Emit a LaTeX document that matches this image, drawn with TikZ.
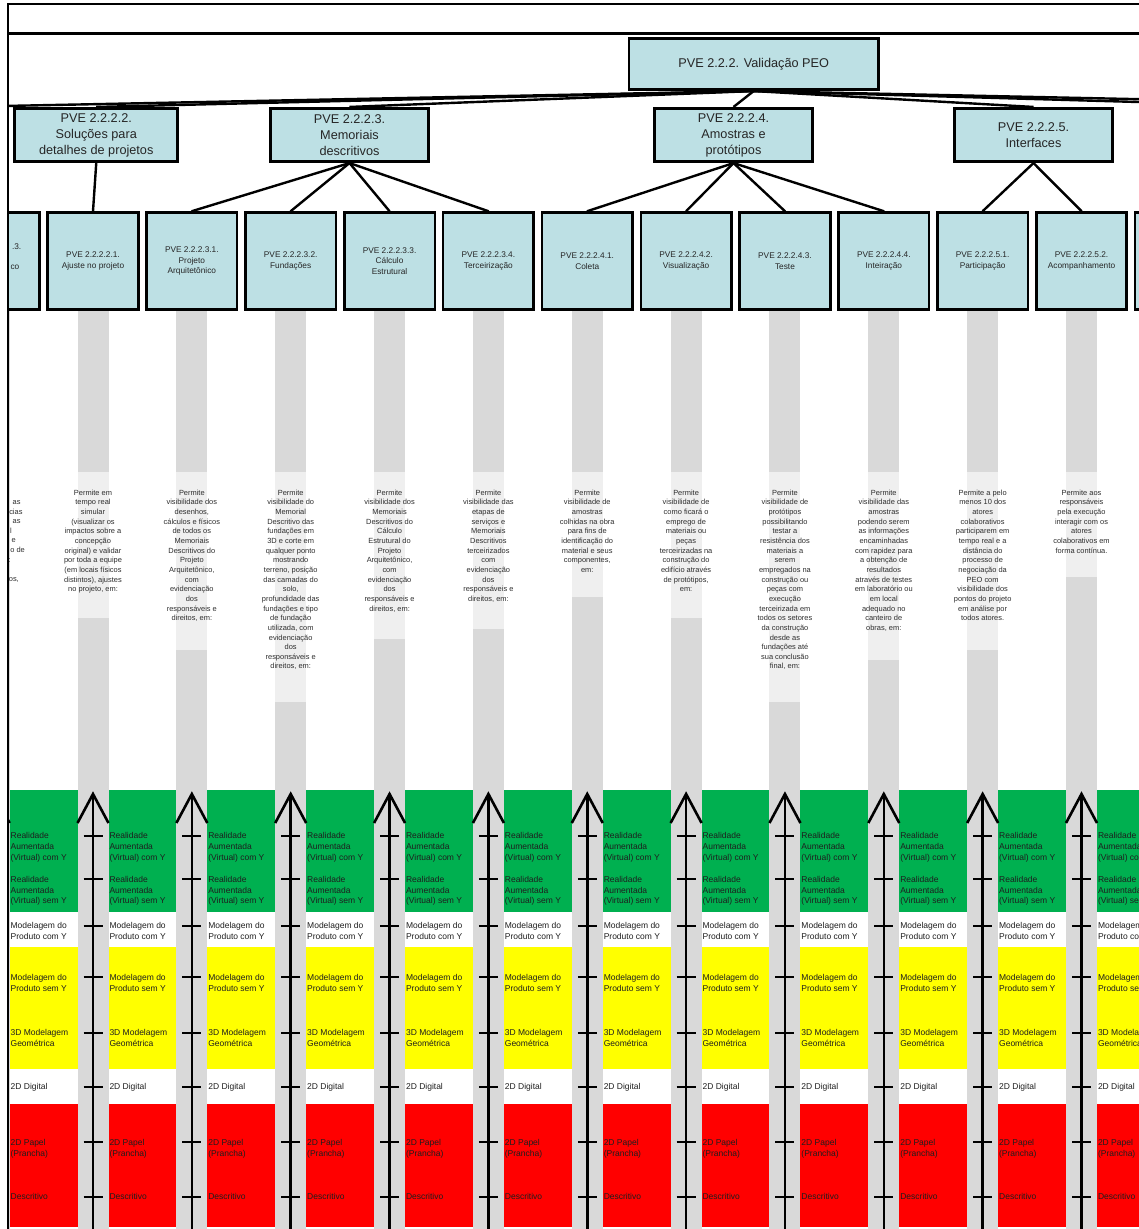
\documentclass[tikz,border=0pt]{standalone}
\usepackage{fontspec}
\setmainfont{Liberation Sans}
\definecolor{boxblue}{RGB}{189,224,228}
\definecolor{colgray}{RGB}{217,217,217}
\definecolor{colpale}{RGB}{239,239,239}
\definecolor{bandgreen}{RGB}{0,176,80}
\definecolor{bandyellow}{RGB}{255,255,0}
\definecolor{bandred}{RGB}{255,0,0}
\definecolor{txtdark}{RGB}{38,38,38}
\definecolor{txtdesc}{RGB}{45,45,45}
\definecolor{txtband}{RGB}{30,30,30}
\begin{document}
\begin{tikzpicture}[x=1pt,y=-1pt,
  rootbox/.style={draw=black, line width=2.6pt, fill=boxblue, minimum width=249.5pt, minimum height=51.5pt, inner sep=0pt, text=txtdark, font=\fontsize{12.7}{15.5}\selectfont},
  midbox/.style={draw=black, line width=2.6pt, fill=boxblue, minimum width=158.5pt, minimum height=53.5pt, inner sep=0pt, align=center, text=txtdark, font=\fontsize{12.7}{16}\selectfont},
  leafbox/.style={draw=black, line width=2.6pt, fill=boxblue, minimum width=90.5pt, minimum height=97pt, inner sep=0pt, align=center, text=txtdark, font=\fontsize{8.3}{10.5}\selectfont},
  desc/.style={inner sep=0pt, anchor=north, align=center, text=txtdesc, font=\fontsize{7.45}{9.66}\selectfont},
  frag/.style={inner sep=0pt, anchor=base east, text=txtdesc, font=\fontsize{7.45}{9.66}\selectfont},
  leaffrag/.style={inner sep=0pt, anchor=base east, text=txtdark, font=\fontsize{8.3}{10.5}\selectfont},
  bandlbl/.style={inner sep=0pt, anchor=north west, align=left, text=txtband, font=\fontsize{8.5}{10.6}\selectfont},
  conn/.style={line width=2.4pt, line cap=round},
  rootconn/.style={line width=2.4pt},
  axisline/.style={line width=2.6pt},
  axtick/.style={line width=2.3pt},
]
\useasboundingbox (0,0) rectangle (1139,1229);

\begin{scope}
\clip (8,0) rectangle (1139,1229);

% colour bands
\fill[bandgreen]  (8,790)    rectangle (1139,912.3);
\fill[bandyellow] (8,946.7)  rectangle (1139,1069.3);
\fill[bandred]    (8,1104)   rectangle (1139,1226.7);

% grey columns
\foreach \i in {0,...,12} {
  \pgfmathsetmacro\c{93+(\i-1)*98.85}
  \fill[colgray] (\c-15.5,311) rectangle (\c+15.5,1232);
}
\foreach \i/\e in {1/618,2/650,3/702,4/639,5/629,6/597,7/618,8/702,9/660,10/650,11/577} {
  \pgfmathsetmacro\c{93+(\i-1)*98.85}
  \fill[colpale] (\c-15.5,472) rectangle (\c+15.5,\e);
}

% axes with ticks and labels
\foreach \i in {0,...,12} {
  \pgfmathsetmacro\c{93+(\i-1)*98.85}
  \draw[axisline] (\c,1232) -- (\c,794);
  \draw[axisline, line join=miter] (\c-15.5,823) -- (\c,794) -- (\c+15.5,823);
  \foreach \t in {835.7,879.3,925.7,977.3,1032.7,1086.7,1142.3,1196.7}
    \draw[axtick] (\c-9.5,\t) -- (\c+9.5,\t);
  \node[bandlbl] (la\i) at (\c+16.3,835.7-3.2) {Realidade\\Aumentada\\(Virtual) com Y};
  \node[bandlbl] (lb\i) at (\c+16.3,879.3-3.2) {Realidade\\Aumentada\\(Virtual) sem Y};
  \node[bandlbl] (lc\i) at (\c+16.3,925.7-3.2) {Modelagem do\\Produto com Y};
  \node[bandlbl] (ld\i) at (\c+16.3,977.3-3.2) {Modelagem do\\Produto sem Y};
  \node[bandlbl] (le\i) at (\c+16.3,1032.7-3.2) {3D Modelagem\\Geométrica};
  \node[bandlbl] (lf\i) at (\c+16.3,1086.7-3.2) {2D Digital};
  \node[bandlbl] (lg\i) at (\c+16.3,1142.3-3.2) {2D Papel\\(Prancha)};
  \node[bandlbl] (lh\i) at (\c+16.3,1196.7-3.2) {Descritivo};
}

% descriptions
\node[frag] (f1) at (20.7,504.3) {as};
\node[frag] (f2) at (22.7,514.0) {cias};
\node[frag] (f3) at (20.7,523.6) {as};
\node[frag] (f4) at (12,533.2) {l};
\node[frag] (f5) at (16,542.9) {e};
\node[frag] (f6) at (25,552.6) {o de};
\node[frag] (f7) at (11,562.2) {:};
\node[frag] (f9) at (19,581.5) {os,};

\node[desc] (d1) at (93,489.5) {Permite em\\tempo real\\simular\\(visualizar os\\impactos sobre a\\concepção\\original) e validar\\por toda a equipe\\(em locais físicos\\distintos), ajustes\\no projeto, em:};
\node[desc] (d2) at (191.85,489.5) {Permite\\visibilidade dos\\desenhos,\\cálculos e físicos\\de todos os\\Memoriais\\Descritivos do\\Projeto\\Arquitetônico,\\com\\evidenciação\\dos\\responsáveis e\\direitos, em:};
\node[desc] (d3) at (290.7,489.5) {Permite\\visibilidade do\\Memorial\\Descritivo das\\fundações em\\3D e corte em\\qualquer ponto\\mostrando\\terreno, posição\\das camadas do\\solo,\\profundidade das\\fundações e tipo\\de fundação\\utilizada, com\\evidenciação\\dos\\responsáveis e\\direitos, em:};
\node[desc] (d4) at (389.55,489.5) {Permite\\visibilidade dos\\Memoriais\\Descritivos do\\Cálculo\\Estrutural do\\Projeto\\Arquitetônico,\\com\\evidenciação\\dos\\responsáveis e\\direitos, em:};
\node[desc] (d5) at (488.4,489.5) {Permite\\visibilidade das\\etapas de\\serviços e\\Memoriais\\Descritivos\\terceirizados\\com\\evidenciação\\dos\\responsáveis e\\direitos, em:};
\node[desc] (d6) at (587.25,489.5) {Permite\\visibilidade de\\amostras\\colhidas na obra\\para fins de\\identificação do\\material e seus\\componentes,\\em:};
\node[desc] (d7) at (686.1,489.5) {Permite\\visibilidade de\\como ficará o\\emprego de\\materiais ou\\peças\\terceirizadas na\\construção do\\edifício através\\de protótipos,\\em:};
\node[desc] (d8) at (784.95,489.5) {Permite\\visibilidade de\\protótipos\\possibilitando\\testar a\\resistência dos\\materiais a\\serem\\empregados na\\construção ou\\peças com\\execução\\terceirizada em\\todos os setores\\da construção\\desde as\\fundações até\\sua conclusão\\final, em:};
\node[desc] (d9) at (883.8,489.5) {Permite\\visibilidade das\\amostras\\podendo serem\\as informações\\encaminhadas\\com rapidez para\\a obtenção de\\resultados\\através de testes\\em laboratório ou\\em local\\adequado no\\canteiro de\\obras, em:};
\node[desc] (d10) at (982.65,489.5) {Permite a pelo\\menos 10 dos\\atores\\colaborativos\\participarem em\\tempo real e a\\distância do\\processo de\\negociação da\\PEO com\\visibilidade dos\\pontos do projeto\\em análise por\\todos atores.};
\node[desc] (d11) at (1081.5,489.5) {Permite aos\\responsáveis\\pela execução\\interagir com os\\atores\\colaborativos em\\forma contínua.};

% leaf boxes
\node[leafbox] (leaf0) at (-5.85,261) {};
\node[leaffrag] (lf0a) at (21.5,249.5) {.3.};
\node[leaffrag] (lf0b) at (19.5,269.5) {co};
\node[leafbox] (leaf1) at (93,261) {PVE 2.2.2.2.1.\\Ajuste no projeto};
\node[leafbox] (leaf2) at (191.85,261) {PVE 2.2.2.3.1.\\Projeto\\Arquitetônico};
\node[leafbox] (leaf3) at (290.7,261) {PVE 2.2.2.3.2.\\Fundações};
\node[leafbox] (leaf4) at (389.55,261) {PVE 2.2.2.3.3.\\Cálculo\\Estrutural};
\node[leafbox] (leaf5) at (488.4,261) {PVE 2.2.2.3.4.\\Terceirização};
\node[leafbox] (leaf6) at (587.25,261) {PVE 2.2.2.4.1.\\Coleta};
\node[leafbox] (leaf7) at (686.1,261) {PVE 2.2.2.4.2.\\Visualização};
\node[leafbox] (leaf8) at (784.95,261) {PVE 2.2.2.4.3.\\Teste};
\node[leafbox] (leaf9) at (883.8,261) {PVE 2.2.2.4.4.\\Inteiração};
\node[leafbox] (leaf10) at (982.65,261) {PVE 2.2.2.5.1.\\Participação};
\node[leafbox] (leaf11) at (1081.5,261) {PVE 2.2.2.5.2.\\Acompanhamento};
\node[leafbox] (leaf12) at (1180.35,261) {};

% middle boxes
\node[midbox, minimum width=163pt] (m2) at (96.25,135) {PVE 2.2.2.2.\\Soluções para\\detalhes de projetos};
\node[midbox] (m3) at (349.5,135) {PVE 2.2.2.3.\\Memoriais\\descritivos};
\node[midbox] (m4) at (733.5,135) {PVE 2.2.2.4.\\Amostras e\\protótipos};
\node[midbox] (m5) at (1033.5,135) {PVE 2.2.2.5.\\Interfaces};

% root
\node[rootbox] (root) at (753.7,64) {PVE 2.2.2. Validação PEO};

% free ends of connectors leaving the picture
\coordinate (offL) at (-600,118);
\coordinate (offR1) at (1700,111);
\coordinate (offR2) at (1700,118);
\coordinate (topL) at (8,4);
\coordinate (topR) at (1160,4);
\coordinate (secL) at (8,33.5);
\coordinate (secR) at (1160,33.5);
\coordinate (frameB) at (8,1240);

% connectors
\draw[rootconn] (root.south) -- (offL);
\draw[rootconn] (root.south) -- (m2.north);
\draw[rootconn] (root.south) -- (m3.north);
\draw[rootconn] (root.south) -- (m4.north);
\draw[rootconn] (root.south) -- (m5.north);
\draw[rootconn] (root.south) -- (offR1);
\draw[rootconn] (root.south) -- (offR2);

\draw[conn] (m2.south) -- (leaf1.north);
\foreach \k in {2,3,4,5} \draw[conn] (m3.south) -- (leaf\k.north);
\foreach \k in {6,7,8,9} \draw[conn] (m4.south) -- (leaf\k.north);
\foreach \k in {10,11} \draw[conn] (m5.south) -- (leaf\k.north);

\draw[line width=2.8pt] (secL) -- (secR);
\end{scope}

\draw[line width=1.7pt] (frameB) -- (topL) -- (topR);
\end{tikzpicture}
\end{document}
